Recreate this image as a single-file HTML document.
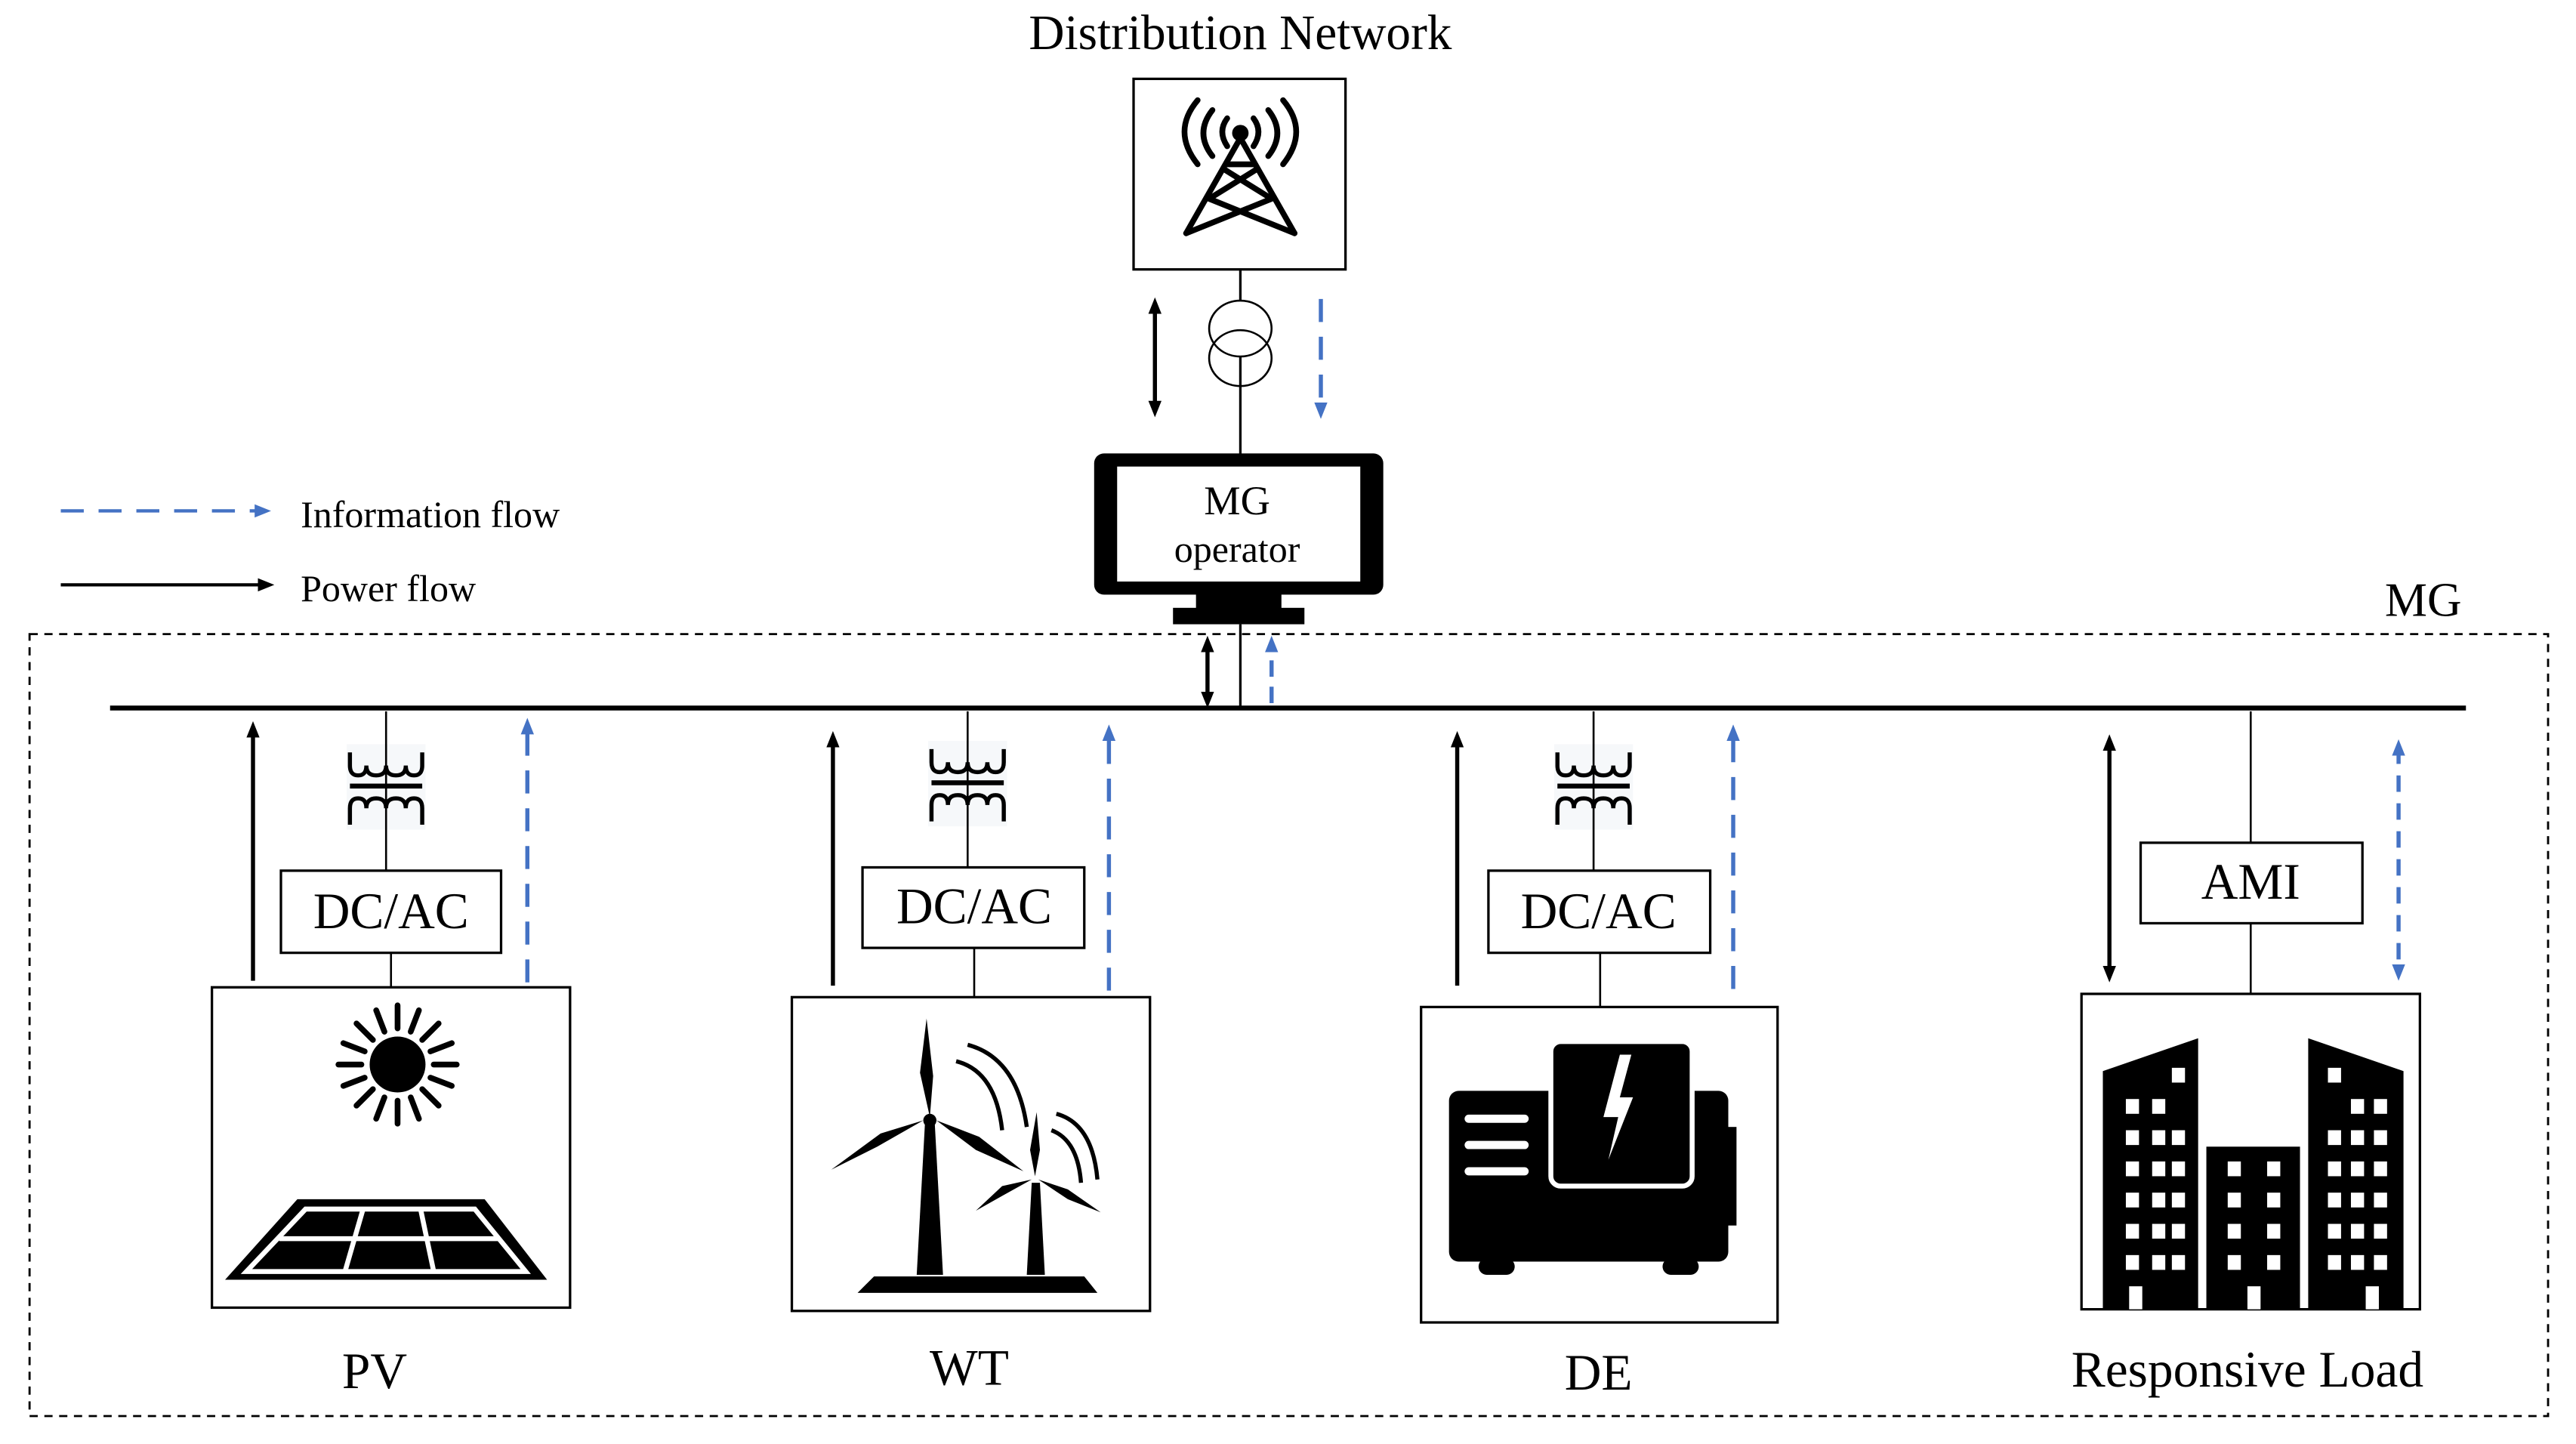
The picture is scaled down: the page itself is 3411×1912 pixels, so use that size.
<!DOCTYPE html>
<html><head><meta charset="utf-8"><style>
html,body{margin:0;padding:0;background:#fff;}
svg{display:block;}
text{font-family:"Liberation Serif",serif;fill:#000;}
</style></head><body>
<svg width="3411" height="1912" viewBox="0 0 1568 879" preserveAspectRatio="none" xmlns="http://www.w3.org/2000/svg">
<defs>
<marker id="ab" markerWidth="10" markerHeight="10" refX="5" refY="5" orient="auto-start-reverse" markerUnits="userSpaceOnUse"><path d="M0,1 L10,5 L0,9 z" fill="#000"/></marker>
<marker id="ablue" markerWidth="10" markerHeight="10" refX="5" refY="5" orient="auto-start-reverse" markerUnits="userSpaceOnUse"><path d="M0,1 L10,5 L0,9 z" fill="#4472C4"/></marker>
<g id="xf">
<path d="M-22,3 v8 q0,6 5,6 q5,0 5,-6 q0,6 6,6 q6,0 6,-6 q0,6 6,6 q6,0 6,-6 q0,6 5,6 q5,0 5,-6 v-8" fill="none" stroke="#000" stroke-width="2.5"/>
<rect x="-22" y="22" width="44" height="3" fill="#000"/>
<path d="M-22,47 v-10 q0,-6 5,-6 q5,0 5,6 q0,-6 6,-6 q6,0 6,6 q0,-6 6,-6 q6,0 6,6 q0,-6 5,-6 q5,0 5,6 v10" fill="none" stroke="#000" stroke-width="2.5"/>
</g>
</defs>

<text x="755" y="30" font-size="30" text-anchor="middle">Distribution Network</text>
<rect x="690" y="48" width="129" height="116" fill="none" stroke="#000" stroke-width="1.5"/>
<g stroke="#000" stroke-width="3.5" fill="none" stroke-linecap="round" stroke-linejoin="round">
<path d="M755,84 L722,142 M755,84 L788,142"/>
<path d="M747,100 L763,100 M745,103 L774,121 M765,103 L736,121 M736,121 L788,142 M774,121 L722,142"/>
</g>
<g stroke="#000" stroke-width="3.5" fill="none" stroke-linecap="round">
<path d="M747,89 q-6,-9 0,-17 M763,89 q6,-9 0,-17 M738,95 q-11,-14 0,-28 M772,95 q11,-14 0,-28 M729,100 q-16,-20 0,-39 M781,100 q16,-20 0,-39"/>
</g>
<circle cx="755" cy="81" r="5" fill="#000"/>
<line x1="755" y1="164" x2="755" y2="277" stroke="#000" stroke-width="1.5"/>
<ellipse cx="755" cy="200" rx="19" ry="17" fill="#fff" stroke="#000" stroke-width="1.2"/>
<ellipse cx="755" cy="218" rx="19" ry="17" fill="none" stroke="#000" stroke-width="1.2"/>
<line x1="703" y1="186" x2="703" y2="249" stroke="#000" stroke-width="2.5" marker-start="url(#ab)" marker-end="url(#ab)"/>
<line x1="804" y1="182" x2="804" y2="250" stroke="#4472C4" stroke-width="2.5" stroke-dasharray="14,9" marker-end="url(#ablue)"/>

<rect x="666" y="276" width="176" height="86" rx="6" fill="#000"/>
<rect x="680" y="284" width="148" height="70" fill="#fff"/>
<rect x="728" y="360" width="52" height="12" fill="#000"/>
<rect x="714" y="370" width="80" height="10" fill="#000"/>
<text x="753" y="313" font-size="25" text-anchor="middle">MG</text>
<text x="753" y="342" font-size="23" text-anchor="middle">operator</text>

<line x1="37" y1="311" x2="160" y2="311" stroke="#4472C4" stroke-width="2" stroke-dasharray="14,9" marker-end="url(#ablue)"/>
<text x="183" y="321" font-size="23">Information flow</text>
<line x1="37" y1="356" x2="162" y2="356" stroke="#000" stroke-width="2" marker-end="url(#ab)"/>
<text x="183" y="366" font-size="23">Power flow</text>

<rect x="18" y="386" width="1533" height="476" fill="none" stroke="#000" stroke-width="1.3" stroke-dasharray="5,4"/>
<text x="1475" y="375" font-size="29" text-anchor="middle">MG</text>

<line x1="67" y1="431" x2="1501" y2="431" stroke="#000" stroke-width="3"/>
<line x1="755" y1="380" x2="755" y2="431" stroke="#000" stroke-width="1.5"/>
<line x1="735" y1="392" x2="735" y2="426" stroke="#000" stroke-width="2.5" marker-start="url(#ab)" marker-end="url(#ab)"/>
<line x1="774" y1="428" x2="774" y2="392" stroke="#4472C4" stroke-width="2.5" stroke-dasharray="10,6" marker-end="url(#ablue)"/>

<!-- PV -->
<g transform="translate(235,455)"><rect x="-24" y="-2" width="48" height="52" fill="#f6f8fa"/><use href="#xf"/></g>
<line x1="235" y1="433" x2="235" y2="530" stroke="#000" stroke-width="1.2"/>
<rect x="171" y="530" width="134" height="50" fill="#fff" stroke="#000" stroke-width="1.5"/>
<text x="238" y="565" font-size="31" text-anchor="middle">DC/AC</text>
<line x1="238" y1="580" x2="238" y2="601" stroke="#000" stroke-width="1.2"/>
<rect x="129" y="601" width="218" height="195" fill="#fff" stroke="#000" stroke-width="1.5"/>
<line x1="154" y1="597" x2="154" y2="444" stroke="#000" stroke-width="2.5" marker-end="url(#ab)"/>
<line x1="321" y1="598" x2="321" y2="442" stroke="#4472C4" stroke-width="2.5" stroke-dasharray="14,9" marker-end="url(#ablue)"/>
<circle cx="242" cy="648" r="17" fill="#000"/>
<g stroke="#000" stroke-width="3.5" stroke-linecap="round" transform="translate(242,648)">
<line x1="0" y1="-22" x2="0" y2="-36"/><line x1="0" y1="22" x2="0" y2="36"/>
<line x1="-22" y1="0" x2="-36" y2="0"/><line x1="22" y1="0" x2="36" y2="0"/>
<line x1="15" y1="-15" x2="25" y2="-25"/><line x1="-15" y1="-15" x2="-25" y2="-25"/>
<line x1="15" y1="15" x2="25" y2="25"/><line x1="-15" y1="15" x2="-25" y2="25"/>
<line x1="8" y1="-20" x2="13" y2="-33"/><line x1="-8" y1="-20" x2="-13" y2="-33"/>
<line x1="8" y1="20" x2="13" y2="33"/><line x1="-8" y1="20" x2="-13" y2="33"/>
<line x1="20" y1="-8" x2="33" y2="-13"/><line x1="-20" y1="-8" x2="-33" y2="-13"/>
<line x1="20" y1="8" x2="33" y2="13"/><line x1="-20" y1="8" x2="-33" y2="13"/>
</g>
<path d="M137,779 L333,779 L295,730 L181,730 Z" fill="#000"/>
<g stroke="#fff" stroke-width="3" fill="none">
<path d="M150,774 L320,774 L289,736 L186,736 Z"/>
<line x1="170" y1="754" x2="304" y2="754"/>
<line x1="221" y1="736" x2="210" y2="774"/>
<line x1="256" y1="736" x2="264" y2="774"/>
</g>
<text x="228" y="845" font-size="31" text-anchor="middle">PV</text>

<!-- WT -->
<g transform="translate(589,453)"><rect x="-24" y="-2" width="48" height="52" fill="#f6f8fa"/><use href="#xf"/></g>
<line x1="589" y1="433" x2="589" y2="528" stroke="#000" stroke-width="1.2"/>
<rect x="525" y="528" width="135" height="49" fill="#fff" stroke="#000" stroke-width="1.5"/>
<text x="593" y="562" font-size="31" text-anchor="middle">DC/AC</text>
<line x1="593" y1="577" x2="593" y2="607" stroke="#000" stroke-width="1.2"/>
<rect x="482" y="607" width="218" height="191" fill="#fff" stroke="#000" stroke-width="1.5"/>
<line x1="507" y1="600" x2="507" y2="450" stroke="#000" stroke-width="2.5" marker-end="url(#ab)"/>
<line x1="675" y1="603" x2="675" y2="446" stroke="#4472C4" stroke-width="2.5" stroke-dasharray="14,9" marker-end="url(#ablue)"/>
<g fill="#000">
<path d="M563,684 L569,684 L574,776 L558,776 Z"/>
<path d="M566,680 L560,653 L564,620 L568,655 Z"/>
<path d="M562,682 L534,698 L506,712 L536,690 Z"/>
<path d="M570,682 L596,692 L623,713 L594,700 Z"/>
<circle cx="566" cy="682" r="4"/>
<path d="M628,720 L633,720 L636,776 L625,776 Z"/>
<path d="M630,716 L627,700 L631,677 L633,700 Z"/>
<path d="M628,718 L610,728 L594,737 L610,722 Z"/>
<path d="M632,718 L650,724 L670,738 L650,730 Z"/>
<path d="M522,787 L668,787 L660,777 L532,777 Z"/>
</g>
<g fill="none" stroke="#000" stroke-width="2.5">
<path d="M589,636 q30,8 36,50"/><path d="M582,646 q24,6 28,42"/>
<path d="M643,678 q22,6 25,40"/><path d="M640,688 q16,6 18,32"/>
</g>
<text x="590" y="843" font-size="31" text-anchor="middle">WT</text>

<!-- DE -->
<g transform="translate(970,455)"><rect x="-24" y="-2" width="48" height="52" fill="#f6f8fa"/><use href="#xf"/></g>
<line x1="970" y1="433" x2="970" y2="530" stroke="#000" stroke-width="1.2"/>
<rect x="906" y="530" width="135" height="50" fill="#fff" stroke="#000" stroke-width="1.5"/>
<text x="973" y="565" font-size="31" text-anchor="middle">DC/AC</text>
<line x1="974" y1="580" x2="974" y2="613" stroke="#000" stroke-width="1.2"/>
<rect x="865" y="613" width="217" height="192" fill="#fff" stroke="#000" stroke-width="1.5"/>
<line x1="887" y1="600" x2="887" y2="450" stroke="#000" stroke-width="2.5" marker-end="url(#ab)"/>
<line x1="1055" y1="602" x2="1055" y2="446" stroke="#4472C4" stroke-width="2.5" stroke-dasharray="14,9" marker-end="url(#ablue)"/>
<rect x="882" y="664" width="170" height="104" rx="6" fill="#000"/>
<rect x="1050" y="686" width="7" height="60" fill="#000"/>
<rect x="944" y="634" width="86" height="88" rx="6" fill="#000" stroke="#fff" stroke-width="3"/>
<path d="M986,642 L976,680 L985,680 L979,706 L994,668 L986,668 L993,642 Z" fill="#fff"/>
<g stroke="#fff" stroke-width="5" stroke-linecap="round"><line x1="894" y1="681" x2="928" y2="681"/><line x1="894" y1="697" x2="928" y2="697"/><line x1="894" y1="713" x2="928" y2="713"/></g>
<rect x="900" y="766" width="22" height="10" rx="5" fill="#000"/>
<rect x="1012" y="766" width="22" height="10" rx="5" fill="#000"/>
<text x="973" y="846" font-size="31" text-anchor="middle">DE</text>

<!-- Load -->
<line x1="1370" y1="433" x2="1370" y2="605" stroke="#000" stroke-width="1.2"/>
<rect x="1303" y="513" width="135" height="49" fill="#fff" stroke="#000" stroke-width="1.5"/>
<text x="1370" y="547" font-size="31" text-anchor="middle">AMI</text>
<rect x="1267" y="605" width="206" height="192" fill="#fff" stroke="#000" stroke-width="1.5"/>
<line x1="1284" y1="452" x2="1284" y2="593" stroke="#000" stroke-width="2.5" marker-start="url(#ab)" marker-end="url(#ab)"/>
<line x1="1460" y1="455" x2="1460" y2="592" stroke="#4472C4" stroke-width="2.5" stroke-dasharray="10,7" marker-start="url(#ablue)" marker-end="url(#ablue)"/>
<path d="M1280,797 L1280,652 L1338,632 L1338,797 Z" fill="#000"/>
<rect x="1343" y="698" width="57" height="99" fill="#000"/>
<path d="M1405,797 L1405,632 L1463,652 L1463,797 Z" fill="#000"/>
<g fill="#fff">
<rect x="1294" y="669" width="8" height="9"/><rect x="1310" y="669" width="8" height="9"/><rect x="1322" y="650" width="8" height="9"/>
<rect x="1294" y="688" width="8" height="9"/><rect x="1310" y="688" width="8" height="9"/><rect x="1322" y="688" width="8" height="9"/>
<rect x="1294" y="707" width="8" height="9"/><rect x="1310" y="707" width="8" height="9"/><rect x="1322" y="707" width="8" height="9"/>
<rect x="1294" y="726" width="8" height="9"/><rect x="1310" y="726" width="8" height="9"/><rect x="1322" y="726" width="8" height="9"/>
<rect x="1294" y="745" width="8" height="9"/><rect x="1310" y="745" width="8" height="9"/><rect x="1322" y="745" width="8" height="9"/>
<rect x="1294" y="764" width="8" height="9"/><rect x="1310" y="764" width="8" height="9"/><rect x="1322" y="764" width="8" height="9"/>
<rect x="1296" y="783" width="8" height="14"/>
<rect x="1356" y="707" width="8" height="9"/><rect x="1380" y="707" width="8" height="9"/>
<rect x="1356" y="726" width="8" height="9"/><rect x="1380" y="726" width="8" height="9"/>
<rect x="1356" y="745" width="8" height="9"/><rect x="1380" y="745" width="8" height="9"/>
<rect x="1356" y="764" width="8" height="9"/><rect x="1380" y="764" width="8" height="9"/>
<rect x="1368" y="783" width="8" height="14"/>
<rect x="1417" y="650" width="8" height="9"/><rect x="1431" y="669" width="8" height="9"/><rect x="1445" y="669" width="8" height="9"/>
<rect x="1417" y="688" width="8" height="9"/><rect x="1431" y="688" width="8" height="9"/><rect x="1445" y="688" width="8" height="9"/>
<rect x="1417" y="707" width="8" height="9"/><rect x="1431" y="707" width="8" height="9"/><rect x="1445" y="707" width="8" height="9"/>
<rect x="1417" y="726" width="8" height="9"/><rect x="1431" y="726" width="8" height="9"/><rect x="1445" y="726" width="8" height="9"/>
<rect x="1417" y="745" width="8" height="9"/><rect x="1431" y="745" width="8" height="9"/><rect x="1445" y="745" width="8" height="9"/>
<rect x="1417" y="764" width="8" height="9"/><rect x="1431" y="764" width="8" height="9"/><rect x="1445" y="764" width="8" height="9"/>
<rect x="1440" y="783" width="8" height="14"/>
</g>
<text x="1368" y="844" font-size="31" text-anchor="middle">Responsive Load</text>
</svg>
</body></html>
